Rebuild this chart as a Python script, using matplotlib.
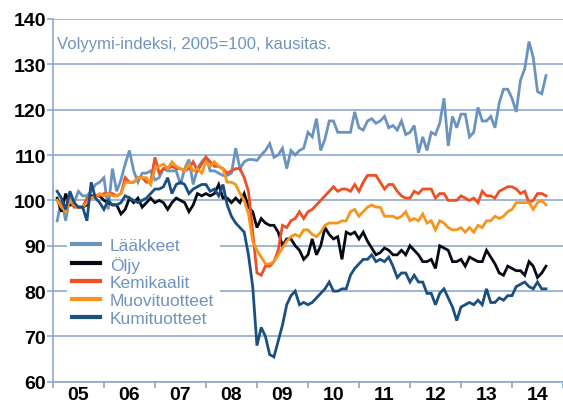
#!/usr/bin/env python3
"""
Kemianteollisuuden volyymi-indeksit 2005-2014
"""

import numpy as np
import matplotlib
matplotlib.use("Agg")
import matplotlib.pyplot as plt

YEAR_LABELS = ["05", "06", "07", "08", "09", "10", "11", "12", "13", "14"]
SERIES_NAMES = ["Lääkkeet", "Öljy", "Kemikaalit", "Muovituotteet", "Kumituotteet"]

# kuukausiarvot tammikuu 2005 - elokuu 2014
laakkeet = [
    95.5, 100, 95.5, 101, 99.5, 102, 101, 101, 102, 103.5, 104, 105,
    98, 107, 102, 104.5, 108, 111, 106.5, 104, 106, 106, 106.5, 104.5,
    105, 107, 106.5, 106.5, 106.5, 103.5, 107, 109, 103.5, 107, 108.5, 109.5,
    106.5, 106.5, 106, 105.5, 105.5, 106, 111.5, 107, 108.5, 109, 109, 108.8,
    110, 111, 112.5, 109.5, 110, 111.5, 107, 111, 110, 111, 111.5, 115,
    114, 118, 111, 113.5, 117.5, 117.5, 115, 115, 115, 115, 119.5, 116,
    115.5, 117.5, 118, 117, 117.5, 118.5, 116, 116.5, 115.5, 117.5, 114.5, 115,
    116.5, 110.5, 114, 111, 115, 114.5, 117, 122.5, 112, 118.5, 116, 119,
    119, 114, 115, 120.5, 117.5, 117.5, 118.5, 116, 121.5, 124.5, 124.5, 122.5,
    119.5, 126.5, 129, 135, 131.5, 124, 123.5, 127.5,
]
oljy = [
    100.5, 97.5, 101.5, 99, 99, 98.5, 98.5, 99, 101, 101, 101, 100,
    99.5, 99, 99, 97, 98, 100.5, 99.5, 100.5, 98.5, 99.5, 100.5, 99.5,
    100, 99.5, 98, 99.5, 100.5, 100, 99.5, 97.5, 99, 101.5, 101, 101.5,
    101, 101.5, 103.5, 100.5, 100.5, 99.5, 100.5, 99.5, 101.5, 98.5, 97.5, 94,
    96, 95, 94.5, 94.5, 93, 90, 91.5, 91.5, 90, 89, 87, 88,
    91.5, 88, 90, 94, 92.5, 91.5, 92, 87, 93, 92.5, 93, 91.5,
    93, 91, 89.5, 88, 88.5, 89.5, 89, 88, 88, 89, 88, 90,
    89, 88, 86.5, 86.5, 87, 85, 90, 89.5, 89, 86.5, 86.5, 87,
    85.5, 87.5, 87, 86.5, 86.5, 89, 87.5, 86, 84, 83.5, 85.5, 85,
    84.5, 84.5, 83.5, 86.5, 85.5, 83, 84, 85.5,
]
kemikaalit = [
    100, 99, 98.5, 100, 98.5, 98.5, 98.5, 100.5, 100.5, 101, 101, 101.5,
    101.5, 101.5, 101, 101.5, 105, 104, 104, 105, 105, 104, 104, 109.5,
    106, 107, 107, 107.5, 107, 107, 106.5, 107, 108.5, 106.5, 108, 109.5,
    108.5, 107.5, 107.5, 107, 106, 106.5, 107, 107, 105, 102, 93, 84,
    83.5, 85.5, 85.5, 86.5, 89, 94.5, 94, 95.5, 96, 97.5, 96, 97.5,
    98, 99, 100, 101, 102, 103, 102, 102.5, 102.5, 102, 103.5, 102,
    104, 105.5, 105.5, 105.5, 104, 102.5, 103.5, 103.5, 102, 101, 100.5, 100.5,
    102, 101.5, 102.5, 102.5, 102.5, 100.5, 101.5, 101.5, 100, 100, 100, 101,
    100.5, 100, 100.5, 99.5, 102, 101, 101, 100.5, 102, 102.5, 103, 103,
    102.5, 101.5, 102, 99.5, 100, 101.5, 101.5, 101,
]
muovituotteet = [
    100, 98.5, 97.5, 100, 99, 98.5, 98.5, 99.5, 100.5, 101, 101.5, 101,
    101.5, 101, 101, 101.5, 104, 104, 104, 105, 105, 105, 103.5, 107,
    107.5, 108, 107, 108.5, 107.5, 107, 106.5, 108, 106.5, 107, 106, 108.5,
    107.5, 108.5, 107.5, 107, 104, 104, 103.5, 101.5, 100, 97, 91, 89,
    87.5, 86, 86, 86.5, 88, 89.5, 91, 92, 92.5, 92, 93.5, 93.5,
    92.5, 92, 93, 94.5, 95, 95, 95, 95.5, 95.5, 97.5, 98, 96.5,
    97.5, 98.5, 99, 98.5, 98.5, 96.5, 96.5, 96.5, 96, 96.5, 97.5, 95.5,
    96, 95.5, 97, 95, 95.5, 93.5, 95.5, 95, 94, 93.5, 93.5, 94,
    93, 94, 93, 94.5, 94, 95.5, 95.5, 96.5, 96, 96.5, 97.5, 98,
    99.5, 99.5, 99.5, 99.5, 98, 99.5, 100, 99,
]
kumituotteet = [
    102, 100.5, 98, 102, 99.5, 98.5, 98.5, 95.5, 104, 100.5, 99.5, 98,
    100, 99, 99, 99.5, 101, 100.5, 100, 99.5, 100, 100.5, 101.5, 102.5,
    102.5, 103, 105, 101.5, 103.5, 104, 103.5, 101.5, 102.5, 103, 103.5, 103.5,
    102, 102.5, 101, 103.5, 99, 96.5, 95, 94, 93, 88, 81, 68,
    72, 70, 66, 65.5, 69, 72.5, 77, 79, 80, 77, 77.5, 77,
    77.5, 78.5, 79.5, 80.5, 82, 80, 80, 80.5, 80.5, 83.5, 85, 86,
    87, 87, 88, 86.5, 87, 86.5, 87.5, 85.5, 83, 84, 84, 82,
    83.5, 82, 82, 79.5, 79.5, 77, 79.5, 80.5, 78.5, 76.5, 73.5, 76.5,
    77, 77.5, 77, 78, 77, 80.5, 77.5, 77.5, 78.5, 78, 79, 79,
    81, 81.5, 82, 81, 80.5, 82, 80.5, 80.5,
]

COLORS = ["#6b93c0", "#050a14", "#f04e23", "#f7941d", "#1b4f80"]
GRID_COLOR = "#8eaad0"
TEXT_BLUE = "#6f93c0"


def main():
    plt.rcParams["font.family"] = ["Liberation Sans", "DejaVu Sans"]

    fig = plt.figure(figsize=(5.63, 4.06), dpi=100)
    ax = fig.add_axes([0.094, 0.057, 0.906, 0.894])

    all_series = [laakkeet, oljy, kemikaalit, muovituotteet, kumituotteet]
    for name, values, color in zip(SERIES_NAMES, all_series, COLORS):
        x = np.arange(1, len(values) + 1)
        ax.plot(x, values, color=color, linewidth=2.0, label=name,
                solid_joinstyle="miter")

    ax.set_ylim(60, 140)
    ax.set_xlim(0, 118.7)
    ax.set_yticks(range(60, 141, 10))
    ax.yaxis.grid(True, color=GRID_COLOR, linewidth=1.2)
    ax.set_axisbelow(True)

    # vuosirajat tikkeinä, vuosiluvut keskelle
    ax.set_xticks(np.arange(0, 121, 12))
    ax.set_xticklabels([])
    ax.set_xticks(np.arange(6, 120, 12), minor=True)
    ax.set_xticklabels(YEAR_LABELS, minor=True, fontsize=14, fontweight="bold")
    ax.tick_params(axis="x", which="major", length=4, color=GRID_COLOR, width=1.2)
    ax.tick_params(axis="x", which="minor", length=0, pad=3)
    ax.tick_params(axis="y", length=4, color=GRID_COLOR, width=1.2, pad=1,
                   labelsize=14)
    for lab in ax.get_yticklabels():
        lab.set_fontweight("bold")

    for side in ["top", "right"]:
        ax.spines[side].set_visible(False)
    for side in ["left", "bottom"]:
        ax.spines[side].set_color(GRID_COLOR)
        ax.spines[side].set_linewidth(1.2)

    ax.text(1.0, 134.5, "Volyymi-indeksi, 2005=100, kausitas.",
            color=TEXT_BLUE, fontsize=12, va="center")

    leg = ax.legend(loc="upper left", bbox_to_anchor=(0.01, 0.435),
                    frameon=True, fancybox=False, edgecolor="none",
                    facecolor="white", framealpha=1, fontsize=12.5,
                    labelspacing=0.15, handlelength=1.6, handletextpad=0.6,
                    borderpad=0.3)
    for txt in leg.get_texts():
        txt.set_color(TEXT_BLUE)
    for line in leg.get_lines():
        line.set_linewidth(3)

    fig.savefig("out.png", dpi=100)
    plt.close(fig)


if __name__ == "__main__":
    main()
